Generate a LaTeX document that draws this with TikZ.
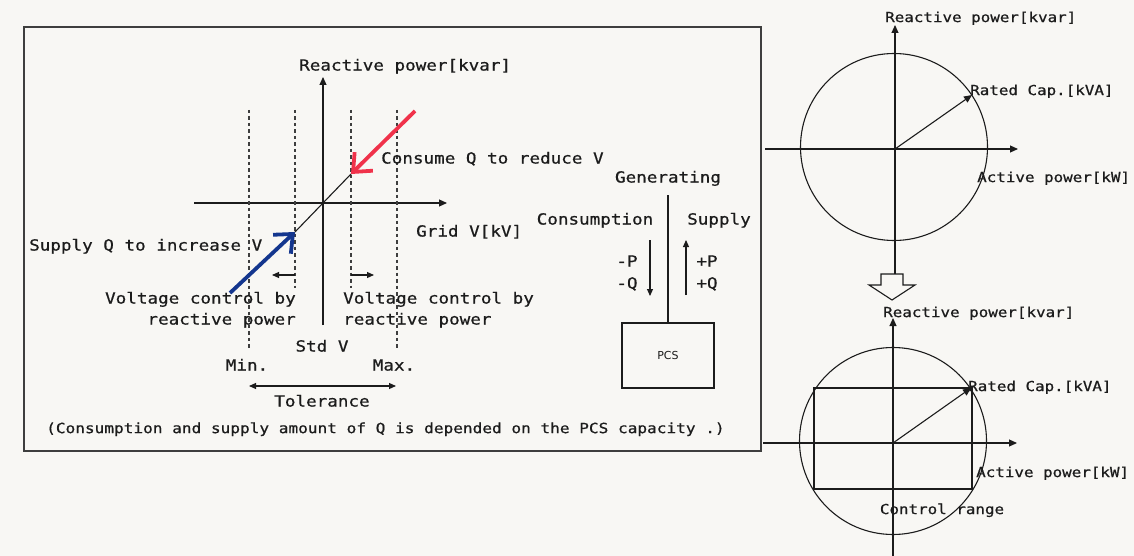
\documentclass[tikz,border=0pt]{standalone}
\usepackage{fontspec}
\usetikzlibrary{arrows.meta}
\newfontfamily\monof[FakeStretch=1.15,FakeBold=0.7]{DejaVu Sans Mono}
\newfontfamily\sansf{DejaVu Sans}
\definecolor{bg}{RGB}{248,247,244}
\definecolor{ink}{RGB}{28,28,28}
\definecolor{redarr}{RGB}{240,50,74}
\definecolor{bluearr}{RGB}{20,54,142}
\begin{document}
\begin{tikzpicture}[x=1pt,y=-1pt,
  txt/.style={inner sep=0pt, text height=11.1pt, text depth=0pt, text=ink,
    font=\monof\fontsize{15.3}{18}\selectfont},
  rtxt/.style={inner sep=0pt, text height=10.1pt, text depth=0pt, text=ink,
    font=\monof\fontsize{13.8}{17}\selectfont},
  ftxt/.style={inner sep=0pt, text height=10.2pt, text depth=0pt, text=ink,
    font=\monof\fontsize{14}{17}\selectfont},
  axis/.style={draw=ink, line width=1.1pt, -{Triangle[length=8pt,width=7pt]}},
  plainline/.style={draw=ink, line width=1.1pt},
  guide/.style={draw=ink!85, line width=1.2pt, dash pattern=on 3.5pt off 3pt},
  smallarr/.style={draw=ink, line width=1.1pt, -{Triangle[length=7pt,width=6pt]}},
  bothsmall/.style={draw=ink, line width=1.1pt, {Triangle[length=7pt,width=6pt]}-{Triangle[length=7pt,width=6pt]}},
  bigarr/.style={line width=3.8pt, -{Straight Barb[length=15pt,width=26pt]}},
]
\useasboundingbox (0,0) rectangle (1134,556);
\fill[bg] (0,0) rectangle (1134,556);

% frame
\draw[draw=ink!85, line width=1.5pt] (24,27) rectangle (761,451);

% main axes
\coordinate (O) at (323,203);
\coordinate (Vtop) at (323,77);
\coordinate (Vbot) at (323,325);
\coordinate (Hl) at (194,203);
\coordinate (Hr) at (447,203);
\draw[axis] (Vbot) -- (Vtop);
\draw[axis] (Hl) -- (Hr);

% dashed guides
\coordinate (g1t) at (249,110); \coordinate (g1b) at (249,350);
\coordinate (g2t) at (295,110); \coordinate (g2b) at (295,288);
\coordinate (g3t) at (351,110); \coordinate (g3b) at (351,288);
\coordinate (g4t) at (397,110); \coordinate (g4b) at (397,350);
\draw[guide] (g1t) -- (g1b);
\draw[guide] (g2t) -- (g2b);
\draw[guide] (g3t) -- (g3b);
\draw[guide] (g4t) -- (g4b);

% characteristic line
\coordinate (dA) at (295,232);
\coordinate (dB) at (351,174);
\draw[plainline] (dA) -- (dB);

% red and blue arrows
\coordinate (rS) at (415,111);
\coordinate (bS) at (230,293);
\draw[bigarr, draw=redarr] (rS) -- (dB);
\draw[bigarr, draw=bluearr] (bS) -- (dA);

% small arrows
\coordinate (la1) at (295,275); \coordinate (la2) at (272,275);
\coordinate (ra1) at (351,275); \coordinate (ra2) at (374,275);
\draw[smallarr] (la1) -- (la2);
\draw[smallarr] (ra1) -- (ra2);
\coordinate (tl) at (249,386); \coordinate (tr) at (396,386);
\draw[bothsmall] (tl) -- (tr);

% labels left diagram
\node[txt, anchor=west] (lq) at (299,65) {Reactive power[kvar]};
\node[txt, anchor=west] (lcons) at (381,158) {Consume Q to reduce V};
\node[txt, anchor=west] (lgrid) at (416,231) {Grid V[kV]};
\node[txt, anchor=west] (lsup) at (29,245) {Supply Q to increase V};
\node[txt, anchor=east] (lv1) at (296,298) {Voltage control by};
\node[txt, anchor=east] (lv2) at (296,319) {reactive power};
\node[txt, anchor=west] (rv1) at (343,298) {Voltage control by};
\node[txt, anchor=west] (rv2) at (343,319) {reactive power};
\node[txt] (std) at (322,346) {Std V};
\node[txt] (min) at (247,365) {Min.};
\node[txt] (max) at (394,365) {Max.};
\node[txt] (tol) at (322,401) {Tolerance};
\node[ftxt, anchor=west] (foot) at (46,428) {(Consumption and supply amount of Q is depended on the PCS capacity .)};

% PCS part
\node[draw=ink, line width=2pt, minimum width=92pt, minimum height=65pt, inner sep=0pt,
  font=\sansf\fontsize{11}{13}\selectfont, text=ink] (pcs) at (668,355.5) {PCS};
\coordinate (gtop) at (668,195);
\draw[draw=ink, line width=2.2pt] (gtop) -- (pcs.north);
\node[txt] (gen) at (668,177) {Generating};
\node[txt] (cons) at (595,219) {Consumption};
\node[txt] (supp) at (719,219) {Supply};
\node[txt] (mp) at (627,261) {-P};
\node[txt] (mq) at (627,283) {-Q};
\node[txt] (pp) at (707,261) {+P};
\node[txt] (pq) at (707,283) {+Q};
\coordinate (da1) at (650,240); \coordinate (da2) at (650,296);
\coordinate (ua1) at (686,295); \coordinate (ua2) at (686,240);
\draw[smallarr] (da1) -- (da2);
\draw[smallarr] (ua1) -- (ua2);

% right top circle
\coordinate (C1) at (895,149);
\draw[draw=ink, line width=1.1pt] (894,147) circle (93.5pt);
\coordinate (v1b) at (895,274);
\coordinate (v1t) at (895,25);
\coordinate (h1l) at (765,149);
\coordinate (h1r) at (1018,149);
\coordinate (R1) at (972,95);
\draw[axis] (v1b) -- (v1t);
\draw[axis] (h1l) -- (h1r);
\draw[axis] (C1) -- (R1);
\node[rtxt, anchor=west] (t1q) at (885,17) {Reactive power[kvar]};
\node[rtxt, anchor=west] (t1r) at (970,90) {Rated Cap.[kVA]};
\node[rtxt, anchor=west] (t1p) at (977,177) {Active power[kW]};

% hollow arrow
\draw[draw=ink, line width=1.1pt, fill=bg] (881,274) -- (903,274) -- (903,285) -- (915,285)
  -- (892,300) -- (869,285) -- (881,285) -- cycle;

% right bottom circle
\coordinate (C2) at (893,443);
\draw[draw=ink, line width=1.1pt] (893,441) circle (93.5pt);
\draw[draw=ink, line width=1.1pt] (814,388) rectangle (972,489);
\coordinate (v2b) at (893,556);
\coordinate (v2t) at (893,318);
\coordinate (h2l) at (763,443);
\coordinate (h2r) at (1017,443);
\coordinate (R2) at (971,388);
\draw[axis] (v2b) -- (v2t);
\draw[axis] (h2l) -- (h2r);
\draw[axis] (C2) -- (R2);
\node[rtxt, anchor=west] (t2q) at (883,312) {Reactive power[kvar]};
\node[rtxt, anchor=west] (t2r) at (968,386) {Rated Cap.[kVA]};
\node[rtxt, anchor=west] (t2p) at (976,472) {Active power[kW]};
\node[rtxt] (t2c) at (942,509) {Control range};
\end{tikzpicture}
\end{document}
